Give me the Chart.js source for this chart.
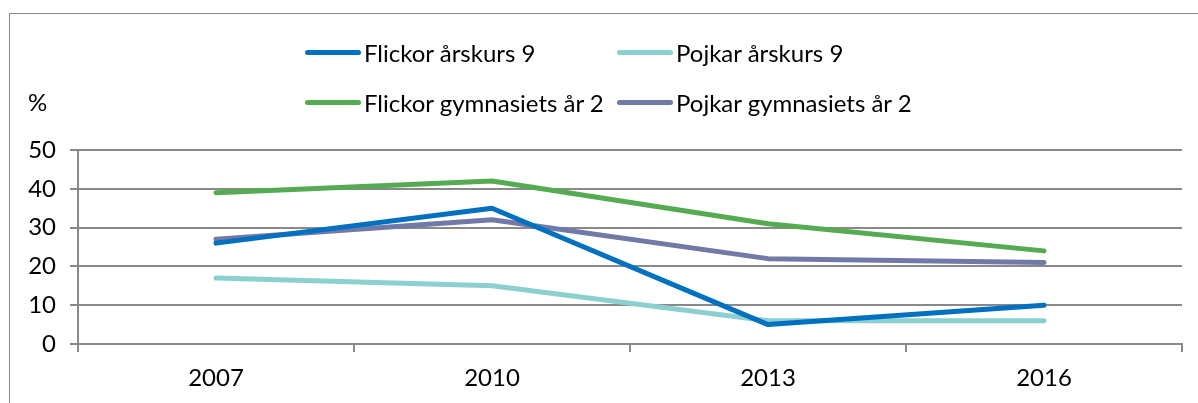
<!DOCTYPE html>
<html>
<head>
<meta charset="utf-8">
<script src="https://cdn.jsdelivr.net/npm/chart.js@4/dist/chart.umd.min.js"></script>
<style>
  html, body { margin: 0; padding: 0; background: #fff; }
  #wrap { position: relative; width: 1198px; height: 403px; overflow: hidden; font-family: Lato, "Open Sans", sans-serif; }
  #frame { position: absolute; left: 9px; top: 13px; width: 1400px; height: 600px; border: 1px solid #868686; box-sizing: border-box; }
  #unit { position: absolute; left: 28px; top: 87px; font-size: 24px; color: #000; }
  .leg { position: absolute; display: flex; align-items: center; font-size: 24px; color: #000; white-space: nowrap; height: 30px; }
  .leg span.sw { display: inline-block; width: 56px; height: 5px; border-radius: 3px; margin-right: 3px; }
  canvas { position: absolute; left: 0; top: 0; }
</style>
</head>
<body>
<div id="wrap">
  <div id="frame"></div>
  <canvas id="c" width="1198" height="403"></canvas>
  <div id="unit">%</div>
  <div id="legend"></div>
</div>
<script>
const years = ['2007', '2010', '2013', '2016'];
const flickorAk9 = [26, 35, 5, 10];
const pojkarAk9 = [17, 15, 6, 6];
const flickorGy2 = [39, 42, 31, 24];
const pojkarGy2 = [27, 32, 22, 21];
const seriesNames = ['Flickor årskurs 9', 'Pojkar årskurs 9', 'Flickor gymnasiets år 2', 'Pojkar gymnasiets år 2'];
const seriesColors = ['#0070c0', '#8bcfd1', '#55ab52', '#7179a6'];
const seriesData = [flickorAk9, pojkarAk9, flickorGy2, pojkarGy2];

// legend positions (two rows, two columns)
const legPos = [[305, 52], [617, 52], [305, 102], [617, 102]];
const legendEl = document.getElementById('legend');
seriesNames.forEach((name, i) => {
    const d = document.createElement('div');
    d.className = 'leg';
    d.style.left = legPos[i][0] + 'px';
    d.style.top = (legPos[i][1] - 15) + 'px';
    d.innerHTML = '<span class="sw" style="background:' + seriesColors[i] + '"></span>' + name;
    legendEl.appendChild(d);
});

const datasets = seriesData.map((data, i) => ({
    label: seriesNames[i],
    data: data,
    borderColor: seriesColors[i],
    borderWidth: 5,
    pointRadius: 0,
    borderCapStyle: 'round',
    borderJoinStyle: 'round',
    tension: 0
}));

const gridColor = '#898989';
const font = {family: 'Lato, "Open Sans", sans-serif', size: 24};

new Chart(document.getElementById('c'), {
    type: 'line',
    data: {labels: years, datasets: datasets},
    options: {
        responsive: false,
        animation: false,
        layout: {padding: {top: 150, right: 16, left: 0, bottom: 0}},
        plugins: {legend: {display: false}, tooltip: {enabled: false}},
        scales: {
            x: {
                offset: true,
                grid: {offset: true, drawOnChartArea: false, color: gridColor, lineWidth: 2, tickLength: 8},
                border: {color: gridColor, width: 2},
                ticks: {color: '#000', font: font, padding: 12, maxRotation: 0},
                afterFit: s => { s.height = 59; }
            },
            y: {
                min: 0, max: 50,
                grid: {color: gridColor, lineWidth: 2, tickLength: 8},
                border: {color: gridColor, width: 2},
                ticks: {stepSize: 10, color: '#000', font: font, padding: 14},
                afterFit: s => { s.width = 78; }
            }
        }
    }
});
</script>
</body>
</html>
